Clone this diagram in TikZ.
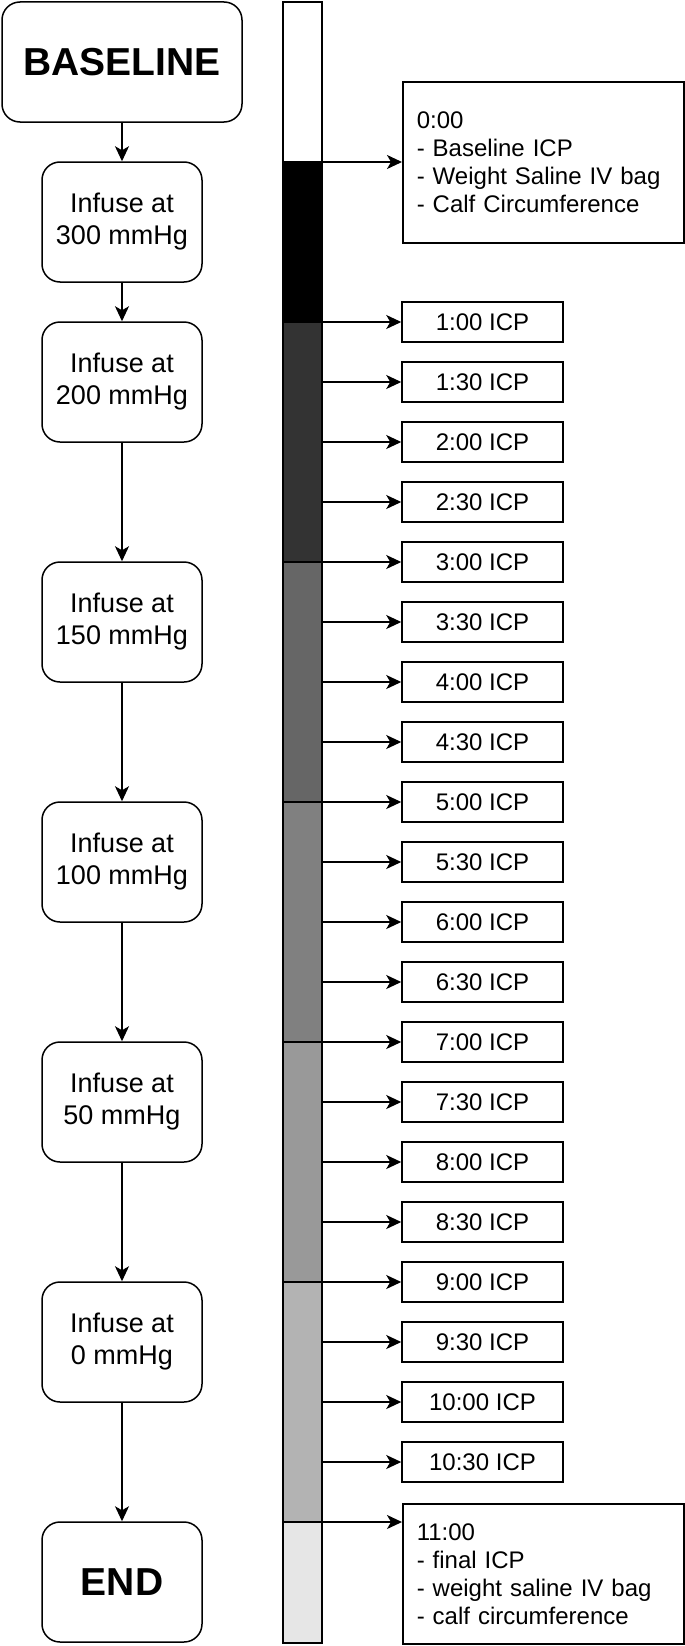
\documentclass[tikz,border=0pt]{standalone}
\usepackage{fontspec}
\setmainfont{Liberation Sans}
\usepackage{tikz}
\usetikzlibrary{arrows.meta,positioning,calc}
\definecolor{StageA}{HTML}{000000}
\definecolor{StageB}{HTML}{333333}
\definecolor{StageC}{HTML}{666666}
\definecolor{StageD}{HTML}{808080}
\definecolor{StageE}{HTML}{999999}
\definecolor{StageF}{HTML}{B3B3B3}
\definecolor{StageG}{HTML}{E6E6E6}
\tikzset{
  stagebox/.style={draw,line width=1.5pt,rounded corners=18pt,minimum width=160pt,
    minimum height=120pt,align=center,font=\fontsize{27}{32}\selectfont},
  bigbox/.style={stagebox,minimum width=240pt,font=\fontsize{39}{44}\selectfont\bfseries},
  icpbox/.style={draw,line width=1.5pt,minimum width=161pt,minimum height=40pt,
    inner sep=0pt,font=\fontsize{24}{28}\selectfont},
  notebox/.style={draw,line width=1.5pt,text width=253pt,inner xsep=14pt,inner ysep=2pt,
    align=left,font=\fontsize{24}{28}\selectfont},
  flow/.style={-{Stealth[length=15pt,width=14pt,inset=4pt]},line width=1.5pt},
  barseg/.style={draw,line width=1.5pt}
}
\begin{document}
\begin{tikzpicture}[x=1pt,y=-1pt]
  \useasboundingbox (0,0) rectangle (685,1646);
  % time bar
  \filldraw[barseg,fill=white]  (283,2)    rectangle (322,162);
  \filldraw[barseg,fill=StageA] (283,162)  rectangle (322,322);
  \filldraw[barseg,fill=StageB] (283,322)  rectangle (322,562);
  \filldraw[barseg,fill=StageC] (283,562)  rectangle (322,802);
  \filldraw[barseg,fill=StageD] (283,802)  rectangle (322,1042);
  \filldraw[barseg,fill=StageE] (283,1042) rectangle (322,1282);
  \filldraw[barseg,fill=StageF] (283,1282) rectangle (322,1522);
  \filldraw[barseg,fill=StageG] (283,1522) rectangle (322,1643);

  % pressure steps
  \node[bigbox] (baseline) at (122,62) {BASELINE};
  \node[stagebox] (p300) at (122,222)  {Infuse at\\300 mmHg};
  \node[stagebox] (p200) at (122,382)  {Infuse at\\200 mmHg};
  \node[stagebox] (p150) at (122,622)  {Infuse at\\150 mmHg};
  \node[stagebox] (p100) at (122,862)  {Infuse at\\100 mmHg};
  \node[stagebox] (p50)  at (122,1102) {Infuse at\\50 mmHg};
  \node[stagebox] (p0)   at (122,1342) {Infuse at\\0 mmHg};
  \node[bigbox,minimum width=160pt] (finish) at (122,1582) {END};
  \draw[flow] (baseline) -- (p300);
  \draw[flow] (p300) -- (p200);
  \draw[flow] (p200) -- (p150);
  \draw[flow] (p150) -- (p100);
  \draw[flow] (p100) -- (p50);
  \draw[flow] (p50) -- (p0);
  \draw[flow] (p0) -- (finish);

  % measurements
  \node[notebox,minimum height=161pt,anchor=north west] (start) at (402,81)
    {0:00\\- Baseline ICP\\- Weight Saline IV bag\\- Calf Circumference};
  \coordinate (t0) at (322,162);
  \draw[flow] (t0) -- (t0 -| start.west);
  \foreach \lbl [count=\i] in {1:00,1:30,2:00,2:30,3:00,3:30,4:00,4:30,5:00,5:30,
      6:00,6:30,7:00,7:30,8:00,8:30,9:00,9:30,10:00,10:30} {
    \node[icpbox] (icp\i) at (482.5,262+60*\i) {\lbl{} ICP};
    \coordinate (t\i) at (322,262+60*\i);
    \draw[flow] (t\i) -- (icp\i.west);
  }
  \node[notebox,minimum height=140pt,anchor=north west] (stop) at (402,1503)
    {11:00\\- final ICP\\- weight saline IV bag\\- calf circumference};
  \coordinate (t21) at (322,1522);
  \draw[flow] (t21) -- (t21 -| stop.west);
\end{tikzpicture}
\end{document}
